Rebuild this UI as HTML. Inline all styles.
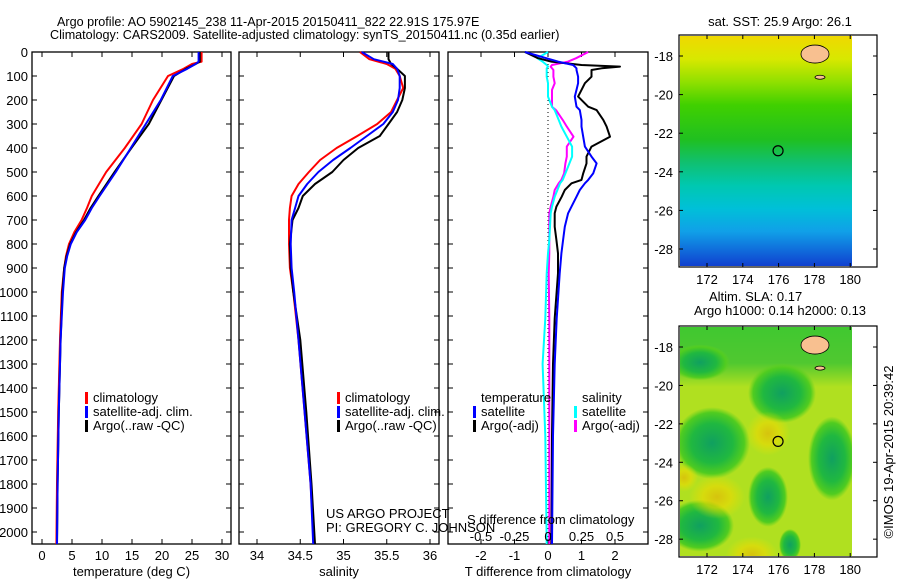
<!DOCTYPE html>
<html><head><meta charset="utf-8">
<style>
body{margin:0;background:#fff;}
svg{display:block;font-family:"Liberation Sans",sans-serif;}
text{font-size:13px;fill:#000;}
</style></head>
<body>
<svg id="fig" width="900" height="580" viewBox="0 0 900 580" xmlns="http://www.w3.org/2000/svg">
<defs>
<linearGradient id="sstGrad" x1="0" y1="0" x2="0" y2="1">
<stop offset="0" stop-color="#f0d800"/>
<stop offset="0.1" stop-color="#d8e800"/>
<stop offset="0.2" stop-color="#90e000"/>
<stop offset="0.3" stop-color="#40d000"/>
<stop offset="0.45" stop-color="#20c020"/>
<stop offset="0.55" stop-color="#10c070"/>
<stop offset="0.65" stop-color="#00c8b0"/>
<stop offset="0.75" stop-color="#00c0d8"/>
<stop offset="0.85" stop-color="#10a0e8"/>
<stop offset="1" stop-color="#1040d0"/>
</linearGradient>
<linearGradient id="band" x1="0" y1="0" x2="0" y2="1">
<stop offset="0" stop-color="#40c830"/>
<stop offset="0.6" stop-color="#50c830"/>
<stop offset="1" stop-color="#50c830" stop-opacity="0"/>
</linearGradient>
<radialGradient id="blob"><stop offset="0" stop-color="#10a060"/><stop offset="0.55" stop-color="#20b840"/><stop offset="0.85" stop-color="#50cc20"/><stop offset="1" stop-color="#60d020" stop-opacity="0"/></radialGradient>
<radialGradient id="hot"><stop offset="0" stop-color="#f0b000"/><stop offset="0.5" stop-color="#f0d800"/><stop offset="1" stop-color="#f0e000" stop-opacity="0"/></radialGradient>
<clipPath id="clipTop"><rect x="680" y="36" width="172" height="230"/></clipPath>
<clipPath id="clipBot"><rect x="680" y="327" width="172" height="229"/></clipPath>
</defs>
<text x="57" y="26" style="font-size:12.6px">Argo profile: AO 5902145_238 11-Apr-2015 20150411_822 22.91S 175.97E</text>
<text x="50" y="39" style="font-size:12.6px">Climatology: CARS2009. Satellite-adjusted climatology: synTS_20150411.nc (0.35d earlier)</text>
<g id="plots"></g>
<g id="maps"></g>
<text transform="translate(893,452) rotate(-90)" text-anchor="middle">©IMOS 19-Apr-2015 20:39:42</text>
</svg>
<script>
// ---- data ----
const depthTicks=[0,100,200,300,400,500,600,700,800,900,1000,1100,1200,1300,1400,1500,1600,1700,1800,1900,2000];
const tempTicks=[0,5,10,15,20,25,30];
const salTicks=[34,34.5,35,35.5,36];
const tdiffTicks=[-2,-1,0,1,2];
const sdiffTicks=[-0.5,-0.25,0,0.25,0.5];
const tDepth=[0,40,50,70,100,200,300,400,500,600,650,700,750,800,850,900,1000,1200,1500,1800,2050];
const tClim=[26.6,26.6,25.0,23.6,21.0,18.5,16.6,13.8,10.7,8.3,7.5,6.6,5.4,4.5,4.0,3.7,3.3,3.0,2.7,2.5,2.4];
const tSat =[26.1,26.1,25.6,24.2,21.8,19.8,17.3,14.8,12.3,9.6,8.3,7.2,5.8,4.8,4.2,3.8,3.5,3.1,2.8,2.6,2.5];
const tArgo=[26.3,26.3,25.6,24.0,22.0,19.9,17.8,14.9,12.1,9.4,8.1,7.0,5.7,4.7,4.1,3.7,3.4,3.1,2.8,2.6,2.5];
const sDepth=[0,30,50,70,100,150,200,250,300,350,400,450,500,550,600,650,700,800,900,1000,1200,1500,1800,2050];
const sClim=[35.19,35.3,35.5,35.6,35.65,35.69,35.62,35.55,35.39,35.16,34.92,34.73,34.6,34.48,34.4,34.38,34.37,34.37,34.38,34.42,34.48,34.55,34.62,34.66];
const sSat =[35.21,35.35,35.57,35.62,35.65,35.65,35.63,35.57,35.46,35.27,35.08,34.88,34.71,34.58,34.48,34.44,34.4,34.39,34.4,34.43,34.48,34.55,34.62,34.65];
const sArgo=[35.52,35.52,35.55,35.62,35.71,35.71,35.68,35.62,35.52,35.42,35.17,35.0,34.87,34.67,34.53,34.48,34.41,34.38,34.39,34.42,34.5,34.57,34.63,34.67];
const dDepth=[0,26,40,54,61,68,75,103,130,158,186,228,242,283,311,353,394,436,464,506,533,547,575,603,644,672,728,783,839,922,1110,1300,1600,2050];
const dTArgo=[-0.69,-0.3,0.1,1.0,2.15,1.6,1.3,1.3,1.1,1.0,0.9,1.2,1.45,1.65,1.75,1.85,1.3,1.15,1.15,1.05,1.0,0.7,0.5,0.41,0.25,0.2,0.2,0.25,0.3,0.3,0.2,0.15,0.12,0.1];
const dTSat =[-0.69,-0.05,0.3,0.75,0.8,0.85,0.85,0.9,0.9,0.85,0.8,0.85,0.95,1.0,1.0,1.05,1.1,1.3,1.45,1.35,1.2,1.1,0.95,0.85,0.7,0.6,0.5,0.45,0.4,0.35,0.26,0.2,0.15,0.12];
const dSSat =[0.0,-0.08,-0.04,-0.01,0.0,-0.01,-0.01,-0.01,0.0,0.0,0.0,0.03,0.05,0.08,0.1,0.14,0.18,0.18,0.16,0.13,0.11,0.09,0.07,0.05,0.03,0.02,0.015,0.01,0.0,-0.01,-0.02,-0.04,-0.02,-0.01];
const dSArgo=[0.3,0.21,0.15,0.03,0.02,0.03,0.04,0.04,0.05,0.03,0.03,0.03,0.06,0.11,0.14,0.19,0.14,0.14,0.13,0.12,0.1,0.08,0.05,0.04,0.02,0.01,0.01,0.01,0.01,0.005,0.01,0.01,0.01,0.01];
const lonTicks=[172,174,176,178,180];
const latTicks=[-18,-20,-22,-24,-26,-28];
const argoLon=175.97, argoLat=-22.91;

const NS="http://www.w3.org/2000/svg";
function mk(tag,attrs,parent,txt){const e=document.createElementNS(NS,tag);for(const k in attrs)e.setAttribute(k,attrs[k]);if(txt!==undefined)e.textContent=txt;parent.appendChild(e);return e;}
const plots=document.getElementById('plots');
const Y0=52,Y1=544;
const yD=d=>Y0+d*0.24;
const panels=[
 {x0:32,x1:231,fx:v=>42+v*6,ticks:tempTicks,title:'temperature (deg C)',name:'temperature'},
 {x0:239,x1:439,fx:v=>257+(v-34)*86.5,ticks:salTicks,title:'salinity',name:'salinity'},
 {x0:448,x1:648,fx:v=>548+v*33.5,ticks:tdiffTicks,title:'T difference from climatology',name:'difference'}
];
panels.forEach((p,i)=>{
 const g=mk('g',{},plots);
 
 
 const fr=mk('rect',{x:p.x0,y:Y0,width:p.x1-p.x0,height:Y1-Y0,fill:'none',stroke:'#000','stroke-width':1.3},g);
 
 
 p.ticks.forEach(t=>{const x=p.fx(t);
  mk('line',{x1:x,x2:x,y1:Y1,y2:Y1-5,stroke:'#000'},g);
  mk('line',{x1:x,x2:x,y1:Y0,y2:Y0+5,stroke:'#000'},g);
  const tl=mk('text',{x:x,y:560,'text-anchor':'middle'},g,String(t));
  
  
 });
 depthTicks.forEach(d=>{const y=yD(d);
  mk('line',{x1:p.x0,x2:p.x0+5,y1:y,y2:y,stroke:'#000'},g);
  mk('line',{x1:p.x1,x2:p.x1-5,y1:y,y2:y,stroke:'#000'},g);
 });
 const at=mk('text',{x:(p.x0+p.x1)/2,y:576,'text-anchor':'middle'},g,p.title);
 
 
});
depthTicks.forEach(d=>{const t=mk('text',{x:28,y:yD(d)+5,'text-anchor':'end'},plots,String(d));
 
 });
function line(xs,ds,fx,color,name,w){
 const pts=xs.map((v,i)=>fx(v).toFixed(1)+','+yD(ds[i]).toFixed(1)).join(' ');
 const e=mk('polyline',{points:pts,fill:'none',stroke:color,'stroke-width':w||2,'stroke-linejoin':'round'},plots);
 
 
}
const P=panels;
line(tClim,tDepth,P[0].fx,'#f00','temp-climatology-line');
line(tArgo,tDepth,P[0].fx,'#000','temp-argo-line');
line(tSat,tDepth,P[0].fx,'#00f','temp-satellite-line');
line(sClim,sDepth,P[1].fx,'#f00','sal-climatology-line');
line(sArgo,sDepth,P[1].fx,'#000','sal-argo-line');
line(sSat,sDepth,P[1].fx,'#00f','sal-satellite-line');
const fs=v=>548+v/0.25*33.5;
mk('line',{x1:548,x2:548,y1:Y0,y2:Y1,stroke:'#000','stroke-dasharray':'1,3'},plots);
line(dSArgo,dDepth,fs,'#f0f','sdiff-argo-line');
line(dSSat,dDepth,fs,'#0ff','sdiff-satellite-line');
line(dTArgo,dDepth,P[2].fx,'#000','tdiff-argo-line');
line(dTSat,dDepth,P[2].fx,'#00f','tdiff-satellite-line');
sdiffTicks.forEach(t=>{const e=mk('text',{x:fs(t),y:541,'text-anchor':'middle'},plots,String(t));
 });
function txt(x,y,s,name,anchor){const e=mk('text',{x:x,y:y,'text-anchor':anchor||'start'},plots,s);
 return e;}
function leg(x,y,color,label,name){const r=mk('rect',{x:x,y:y-10,width:3,height:12,fill:color},plots);
 
 txt(x+8,y,label,name);}
[[85,'temp'],[337,'sal']].forEach(([x,n])=>{
 leg(x,402,'#f00','climatology',n+'-legend-climatology');
 leg(x,416,'#00f','satellite-adj. clim.',n+'-legend-satellite');
 leg(x,430,'#000','Argo(..raw -QC)',n+'-legend-argo');});
txt(481,402,'temperature','legend-temperature-header');
leg(473,416,'#00f','satellite','legend-t-satellite');
leg(473,430,'#000','Argo(-adj)','legend-t-argo');
txt(582,402,'salinity','legend-salinity-header');
leg(574,416,'#0ff','satellite','legend-s-satellite');
leg(574,430,'#f0f','Argo(-adj)','legend-s-argo');
txt(326,518,'US ARGO PROJECT','credit-project');
txt(326,532,'PI: GREGORY C. JOHNSON','credit-pi');
txt(467,524,'S difference from climatology','sdiff-axis-title');

// ---- maps ----
const maps=document.getElementById('maps');
function drawMap(top,bot,name,kind,clip){
 const fx=lon=>707+(lon-172)*17.9;
 const ly=lat=>top+21+(-18-lat)*19.3*(bot-top)/232;
 const g=mk('g',{},maps);
 
 
 const img=mk('g',{'clip-path':'url(#'+clip+')'},g);
 const iw=852-680,ih=bot-top-2;
 if(kind==='sst'){
  mk('rect',{x:680,y:top+1,width:iw,height:ih,fill:'url(#sstGrad)'},img);
 } else {
  mk('rect',{x:680,y:top+1,width:iw,height:ih,fill:'#b0e020'},img);
  mk('rect',{x:680,y:top+1,width:iw,height:60,fill:'url(#band)'},img);
  [[712,ly(-23),38,36],[782,ly(-20.4),34,30],[768,ly(-25.8),20,30],[700,ly(-27.3),34,26],[832,ly(-23.8),24,42],[790,ly(-28.3),11,16],[700,ly(-18.8),30,18]].forEach(b=>
   mk('ellipse',{cx:b[0],cy:b[1],rx:b[2],ry:b[3],fill:'url(#blob)'},img));
  [[717,ly(-25.8),28,22],[752,ly(-28.8),26,18],[768,ly(-22.5),22,22],[684,ly(-24.8),14,14]].forEach(b=>
   mk('ellipse',{cx:b[0],cy:b[1],rx:b[2],ry:b[3],fill:'url(#hot)',opacity:0.6},img));
 }
 mk('ellipse',{cx:815,cy:ly(-17.9),rx:14,ry:9,fill:'#f8c090',stroke:'#000','stroke-width':0.8},img);
 mk('ellipse',{cx:820,cy:ly(-19.1),rx:5,ry:2,fill:'#f8c090',stroke:'#000','stroke-width':0.8},img);
 const fr=mk('rect',{x:679,y:top,width:198,height:bot-top,fill:'none',stroke:'#000','stroke-width':1.2},g);
 
 
 const c=mk('circle',{cx:fx(argoLon),cy:ly(argoLat),r:5,fill:'none',stroke:'#000','stroke-width':1.2},g);
 
 
 lonTicks.forEach(l=>{const x=fx(l);
  mk('line',{x1:x,x2:x,y1:bot,y2:bot-4,stroke:'#000'},g);
  mk('line',{x1:x,x2:x,y1:top,y2:top+4,stroke:'#000'},g);
  const t=mk('text',{x:x,y:bot+17,'text-anchor':'middle'},g,String(l));
  });
 latTicks.forEach(l=>{const y=ly(l);
  mk('line',{x1:679,x2:683,y1:y,y2:y,stroke:'#000'},g);
  mk('line',{x1:877,x2:873,y1:y,y2:y,stroke:'#000'},g);
  const t=mk('text',{x:673,y:y+5,'text-anchor':'end'},g,String(l));
  });
}
drawMap(35,267,'sst-map','sst','clipTop');
drawMap(326,557,'sla-map','sla','clipBot');
const t1=mk('text',{x:780,y:26,'text-anchor':'middle'},maps,'sat. SST: 25.9 Argo: 26.1');

const t2=mk('text',{x:709,y:301},maps,'Altim. SLA: 0.17');

const t3=mk('text',{x:694,y:315},maps,'Argo h1000: 0.14 h2000: 0.13');

</script>
</body></html>
